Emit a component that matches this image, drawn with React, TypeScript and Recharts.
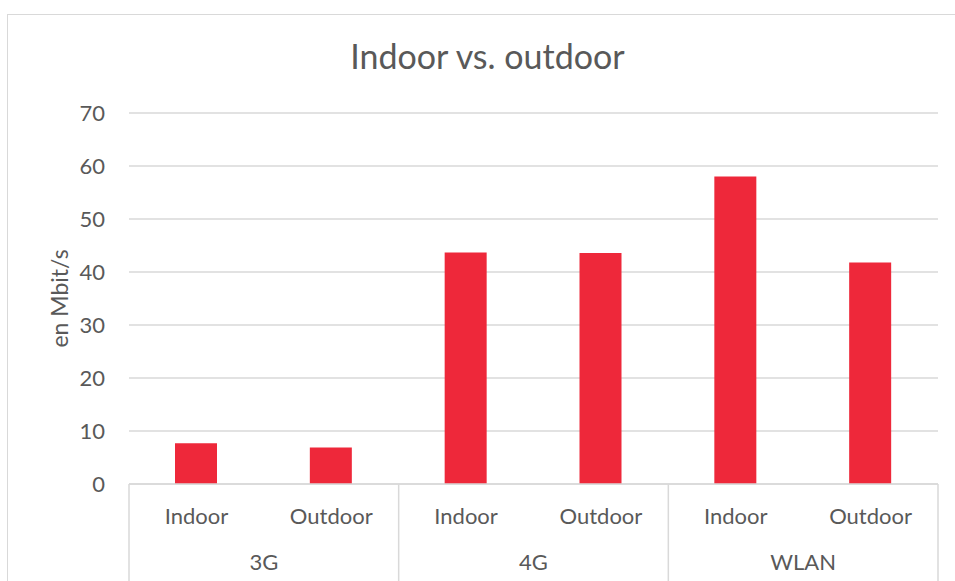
import { Bar, BarChart, CartesianGrid, XAxis, YAxis } from "recharts";

const categories = ["Indoor", "Outdoor", "Indoor", "Outdoor", "Indoor", "Outdoor"];
const groups = ["3G", "3G", "4G", "4G", "WLAN", "WLAN"];
const speeds = [7.7, 6.9, 43.7, 43.6, 58.0, 41.8];
const yTicks = [0, 10, 20, 30, 40, 50, 60, 70];

const rows = categories.map((cat, i) => ({ id: i, cat, group: groups[i], speed: speeds[i] }));

const CHART_W = 955;
const CHART_H = 581;
const MARGIN = { top: 113, right: 17, bottom: 0, left: 0 };
const Y_AXIS_W = 129;
const X_AXIS_H = 97;
const TEXT = "#595959";
const GRID = "#d9d9d9";
const FONT = "Lato, 'Open Sans', sans-serif";

const plotWidth = CHART_W - MARGIN.left - MARGIN.right - Y_AXIS_W;

function CategoryTick(props: any) {
  const { x, y, index } = props;
  const band = plotWidth / rows.length;
  const row = rows[index];
  if (!row) return null;
  const isFirstInGroup = index === 0 || rows[index - 1].group !== row.group;
  const isLast = index === rows.length - 1;
  const groupEnd = index + 1 < rows.length && rows[index + 1].group === row.group;
  return (
    <g>
      <text x={x} y={y + 40} textAnchor="middle" fill={TEXT} fontSize={22} fontFamily={FONT}>
        {row.cat}
      </text>
      {isFirstInGroup && (
        <text
          x={groupEnd ? x + band / 2 : x}
          y={y + 86}
          textAnchor="middle"
          fill={TEXT}
          fontSize={22}
          fontFamily={FONT}
        >
          {row.group}
        </text>
      )}
      {isFirstInGroup && (
        <line x1={x - band / 2} x2={x - band / 2} y1={y} y2={y + X_AXIS_H} stroke={GRID} strokeWidth={1.5} />
      )}
      {isLast && (
        <line x1={x + band / 2} x2={x + band / 2} y1={y} y2={y + X_AXIS_H} stroke={GRID} strokeWidth={1.5} />
      )}
    </g>
  );
}

function YLabel(props: any) {
  const { viewBox } = props;
  const cy = viewBox.y + viewBox.height / 2;
  const cx = 59;
  return (
    <text
      x={cx}
      y={cy}
      transform={`rotate(-90 ${cx} ${cy})`}
      textAnchor="middle"
      dominantBaseline="central"
      fill={TEXT}
      fontSize={23}
      fontFamily={FONT}
    >
      en Mbit/s
    </text>
  );
}

export default function App() {
  return (
    <div
      style={{
        position: "absolute",
        left: 0,
        top: 0,
        width: CHART_W,
        height: CHART_H,
        overflow: "hidden",
        background: "#fff",
        fontFamily: FONT,
      }}
    >
      <div
        style={{
          position: "absolute",
          left: 7,
          top: 14,
          width: 1000,
          height: 700,
          border: `1.5px solid ${GRID}`,
        }}
      />
      <div
        style={{
          position: "absolute",
          left: 0,
          top: 35,
          width: 975,
          textAlign: "center",
          fontSize: 34,
          lineHeight: "42px",
          color: TEXT,
        }}
      >
        Indoor vs. outdoor
      </div>
      <div style={{ position: "absolute", left: 0, top: 0 }}>
        <BarChart width={CHART_W} height={CHART_H} data={rows} margin={MARGIN} barSize={42}>
          <CartesianGrid vertical={false} stroke={GRID} strokeWidth={1.5} />
          <XAxis
            dataKey="id"
            height={X_AXIS_H}
            tickSize={0}
            tickMargin={0}
            tickLine={false}
            axisLine={{ stroke: GRID, strokeWidth: 1.5 }}
            tick={<CategoryTick />}
            interval={0}
          />
          <YAxis
            width={Y_AXIS_W}
            domain={[0, 70]}
            ticks={yTicks}
            tickSize={0}
            tickMargin={24}
            tickLine={false}
            axisLine={false}
            tick={{ fill: TEXT, fontSize: 22, fontFamily: FONT }}
            label={<YLabel />}
          />
          <Bar dataKey="speed" fill="#EE283A" isAnimationActive={false} />
        </BarChart>
      </div>
    </div>
  );
}
